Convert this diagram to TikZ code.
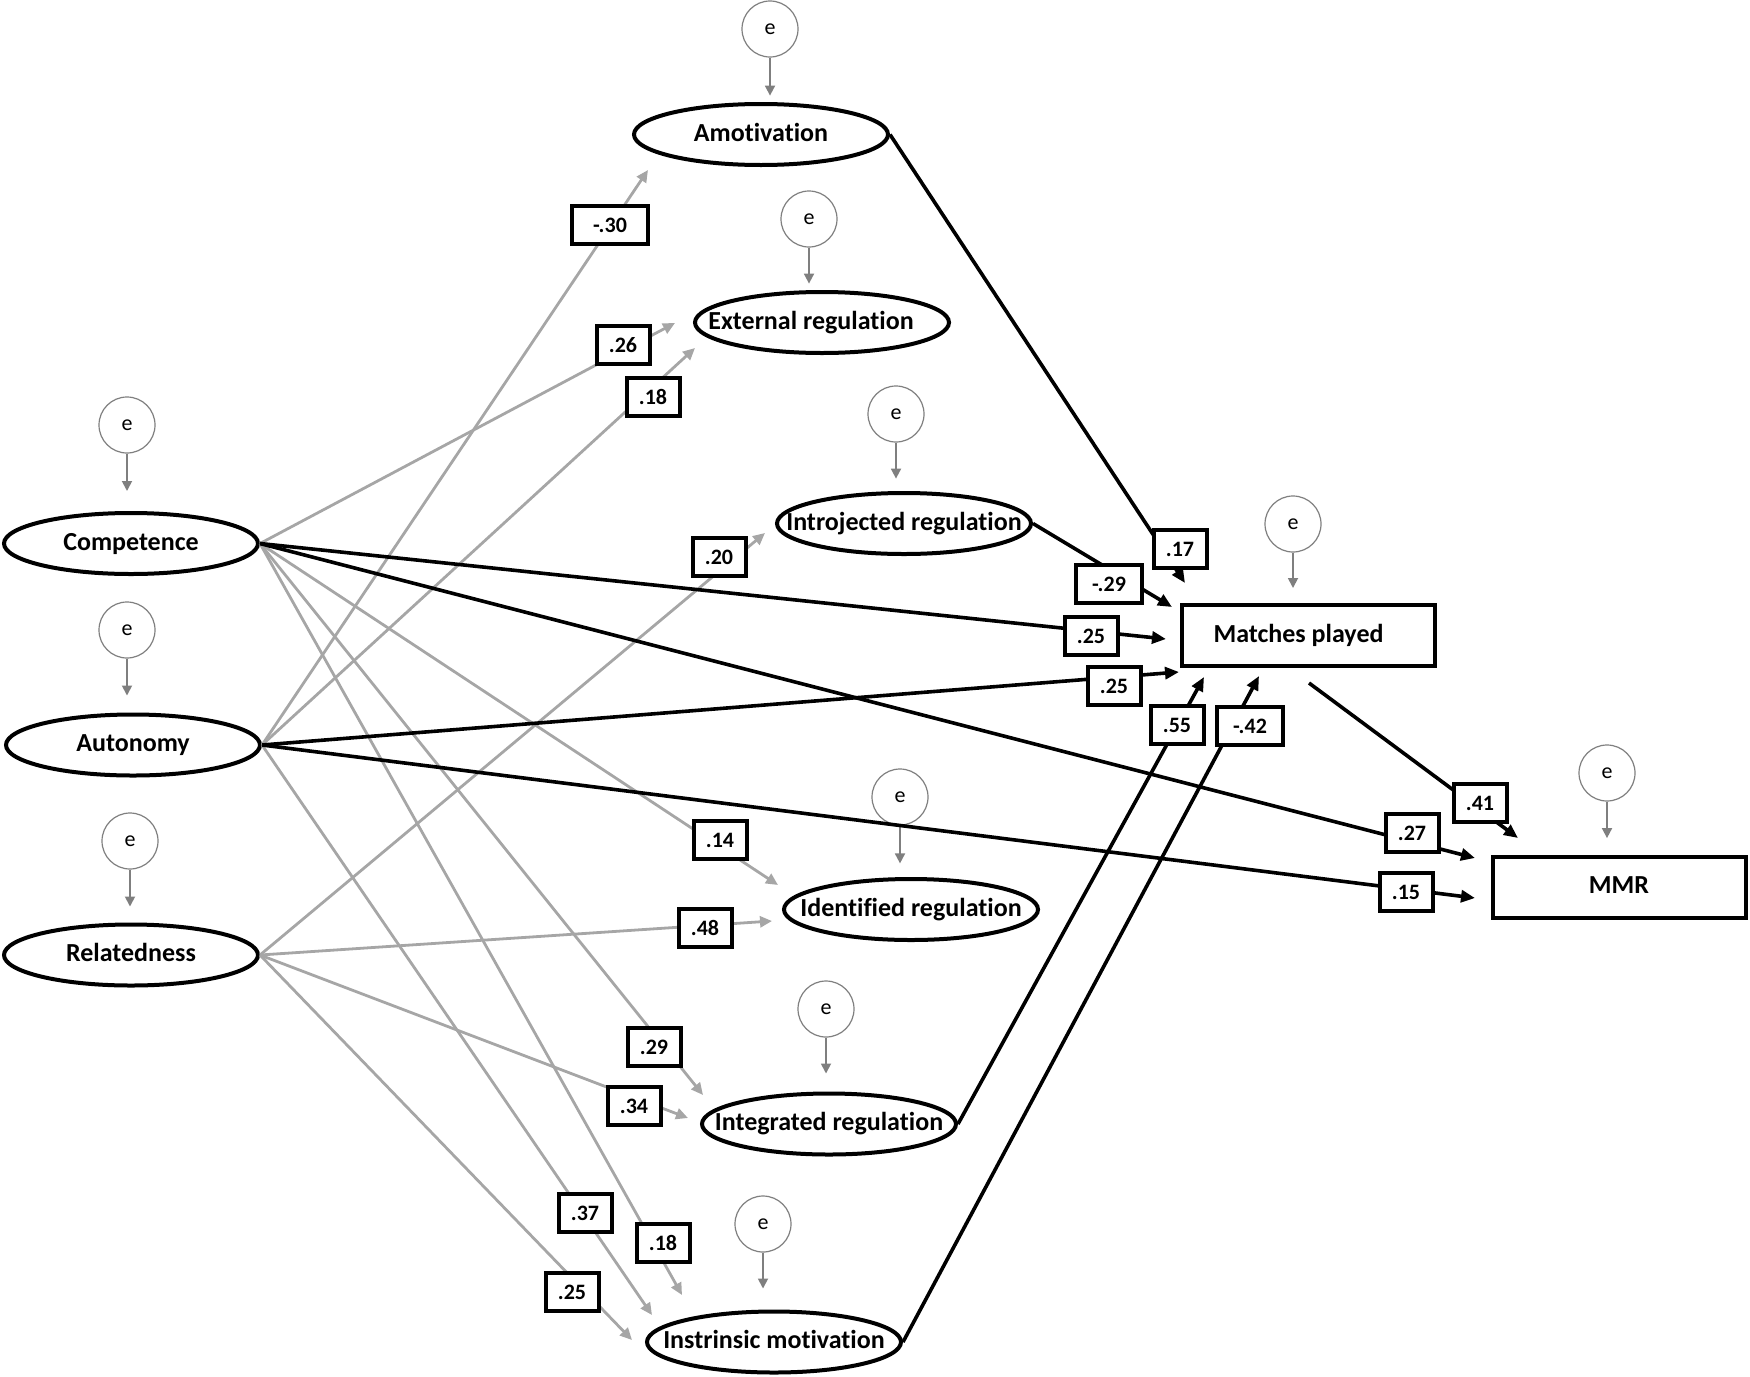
\documentclass[tikz,border=0pt]{standalone}
\usepackage{fontspec}
\setmainfont{Carlito}[Ligatures={NoCommon,NoContextual}]
\usetikzlibrary{arrows.meta,shapes.geometric}
\definecolor{lgray}{HTML}{A6A6A6}
\definecolor{dgray}{HTML}{7F7F7F}
\newcommand\zbox[1]{\makebox[0pt]{#1}}
\begin{document}
\begin{tikzpicture}[x=0.5pt,y=-0.5pt,
  latent/.style={ellipse, draw, line width=2pt, minimum width=127pt, minimum height=30.5pt,
    inner sep=0pt, text height=9pt, text depth=2.5pt, font=\fontsize{13}{15}\selectfont\bfseries},
  observed/.style={rectangle, draw, line width=2pt, minimum width=126.5pt, minimum height=30.5pt,
    inner sep=0pt, text height=9pt, text depth=2.5pt, font=\fontsize{13}{15}\selectfont\bfseries},
  err/.style={circle, draw=dgray, line width=0.6pt, minimum size=28pt, inner sep=0pt,
    font=\fontsize{11}{13}\selectfont},
  earr/.style={draw=dgray, line width=0.9pt, -{Triangle[length=5pt,width=5pt]}},
  gpath/.style={draw=lgray, line width=1.4pt, -{Triangle[length=6pt,width=5.5pt]}},
  bpath/.style={draw=black, line width=1.8pt, -{Triangle[length=7pt,width=6pt]}},
  coef/.style={draw, fill=white, line width=2pt, minimum width=26.5pt, minimum height=19pt,
    inner sep=0pt, font=\fontsize{11}{13}\selectfont\bfseries},
  wide/.style={minimum width=33pt},
]
\useasboundingbox (0,0) rectangle (1750,1376);

% ---------- latent / observed variables ----------
\node[latent] (comp)  at (131,543.5) {\zbox{Competence}};
\node[latent] (auto)  at (133,745)   {\zbox{Autonomy}};
\node[latent] (rel)   at (131,955)   {\zbox{Relatedness}};
\node[latent] (amo)   at (761,134.5) {\zbox{Amotivation}};
\node[latent] (ext)   at (822,322.5) {\zbox{\hspace*{-11pt}External regulation}};
\node[latent] (intro) at (904,523.5) {\zbox{Introjected regulation}};
\node[latent] (ident) at (911,909.5) {\zbox{Identified regulation}};
\node[latent] (integ) at (829,1124)  {\zbox{Integrated regulation}};
\node[latent] (intr)  at (774,1342)  {\zbox{Instrinsic motivation}};
\node[observed] (mp)  at (1308.5,635.5) {\zbox{\hspace*{-10pt}Matches played}};
\node[observed] (mmr) at (1619,887)  {\zbox{MMR}};

% ---------- error terms ----------
\node[err] (eC)  at (127,425)  {e};
\node[err] (eA)  at (127,630)  {e};
\node[err] (eR)  at (130,841)  {e};
\node[err] (eAm) at (770,29)   {e};
\node[err] (eEx) at (809,219)  {e};
\node[err] (eIj) at (896,414)  {e};
\node[err] (eId) at (900,797)  {e};
\node[err] (eIg) at (826,1009) {e};
\node[err] (eIn) at (763,1224) {e};
\node[err] (eMP) at (1293,524) {e};
\node[err] (eMM) at (1607,773) {e};

\draw[earr, shorten >=10pt]  (eC.south)  -- (eC.south  |- comp.north);
\draw[earr, shorten >=8.5pt] (eA.south)  -- (eA.south  |- auto.north);
\draw[earr, shorten >=8pt]   (eR.south)  -- (eR.south  |- rel.north);
\draw[earr, shorten >=3.2pt] (eAm.south) -- (eAm.south |- amo.north);
\draw[earr, shorten >=3.2pt] (eEx.south) -- (eEx.south |- ext.north);
\draw[earr, shorten >=6.2pt] (eIj.south) -- (eIj.south |- intro.north);
\draw[earr, shorten >=6.8pt] (eId.south) -- (eId.south |- ident.north);
\draw[earr, shorten >=9pt]   (eIg.south) -- (eIg.south |- integ.north);
\draw[earr, shorten >=10.5pt](eIn.south) -- (eIn.south |- intr.north);
\draw[earr, shorten >=7.5pt] (eMP.south) -- (eMP.south |- mp.north);
\draw[earr, shorten >=8.2pt] (eMM.south) -- (eMM.south |- mmr.north);

% ---------- arrow tips ----------
\coordinate (tAuAm) at (648,170);
\coordinate (tCoEx) at (675,323);
\coordinate (tAuEx) at (695,348);
\coordinate (tReIj) at (765,533);
\coordinate (tCoId) at (778,885);
\coordinate (tReId) at (772,921);
\coordinate (tCoIg) at (703,1095);
\coordinate (tReIg) at (688,1118);
\coordinate (tAuIn) at (652,1315);
\coordinate (tCoIn) at (682,1295);
\coordinate (tReIn) at (632,1340);

\coordinate (tAmMP) at (1185,583);
\coordinate (tIjMP) at (1172,607);
\coordinate (tCoMP) at (1166,639);
\coordinate (tAuMP) at (1179,672);
\coordinate (tIgMP) at (1204,677);
\coordinate (tInMP) at (1259,676);
\coordinate (mpout) at (1309,683);
\coordinate (tMPMM) at (1518,838);
\coordinate (tCoMM) at (1475,858);
\coordinate (tAuMM) at (1475,898);

% ---------- grey paths ----------
\draw[gpath] (auto.east) -- (tAuAm);
\draw[gpath] (comp.east) -- (tCoEx);
\draw[gpath] (auto.east) -- (tAuEx);
\draw[gpath] (rel.east)  -- (tReIj);
\draw[gpath] (comp.east) -- (tCoId);
\draw[gpath] (rel.east)  -- (tReId);
\draw[gpath] (comp.east) -- (tCoIg);
\draw[gpath] (rel.east)  -- (tReIg);
\draw[gpath] (auto.east) -- (tAuIn);
\draw[gpath] (comp.east) -- (tCoIn);
\draw[gpath] (rel.east)  -- (tReIn);

% ---------- black paths ----------
\draw[bpath] (amo.east)   -- (tAmMP);
\draw[bpath] (intro.east) -- (tIjMP);
\draw[bpath] (comp.east)  -- (tCoMP);
\draw[bpath] (auto.east)  -- (tAuMP);
\draw[bpath] (integ.east) -- (tIgMP);
\draw[bpath] (intr.east)  -- (tInMP);
\draw[bpath] (mpout)      -- (tMPMM);
\draw[bpath] (comp.east)  -- (tCoMM);
\draw[bpath] (auto.east)  -- (tAuMM);

% ---------- coefficients ----------
\node[coef, minimum width=38pt] (cAuAm) at (610,225) {-.30};
\node[coef] (cCoEx) at (623,345)  {.26};
\node[coef] (cAuEx) at (653,397)  {.18};
\node[coef] (cReIj) at (719,557)  {.20};
\node[coef] (cCoId) at (720,840)  {.14};
\node[coef] (cReId) at (705,928)  {.48};
\node[coef] (cCoIg) at (654,1047) {.29};
\node[coef] (cReIg) at (634,1106) {.34};
\node[coef] (cAuIn) at (585,1213) {.37};
\node[coef] (cCoIn) at (663,1243) {.18};
\node[coef] (cReIn) at (572,1292) {.25};

\node[coef] (cAmMP) at (1180,549) {.17};
\node[coef, wide] (cIjMP) at (1109,584) {-.29};
\node[coef] (cCoMP) at (1091,636) {.25};
\node[coef] (cAuMP) at (1114,686) {.25};
\node[coef] (cIgMP) at (1177,725) {.55};
\node[coef, wide] (cInMP) at (1250,726) {-.42};
\node[coef] (cMPMM) at (1480,803) {.41};
\node[coef] (cCoMM) at (1412,833) {.27};
\node[coef] (cAuMM) at (1406,892) {.15};
\end{tikzpicture}
\end{document}
